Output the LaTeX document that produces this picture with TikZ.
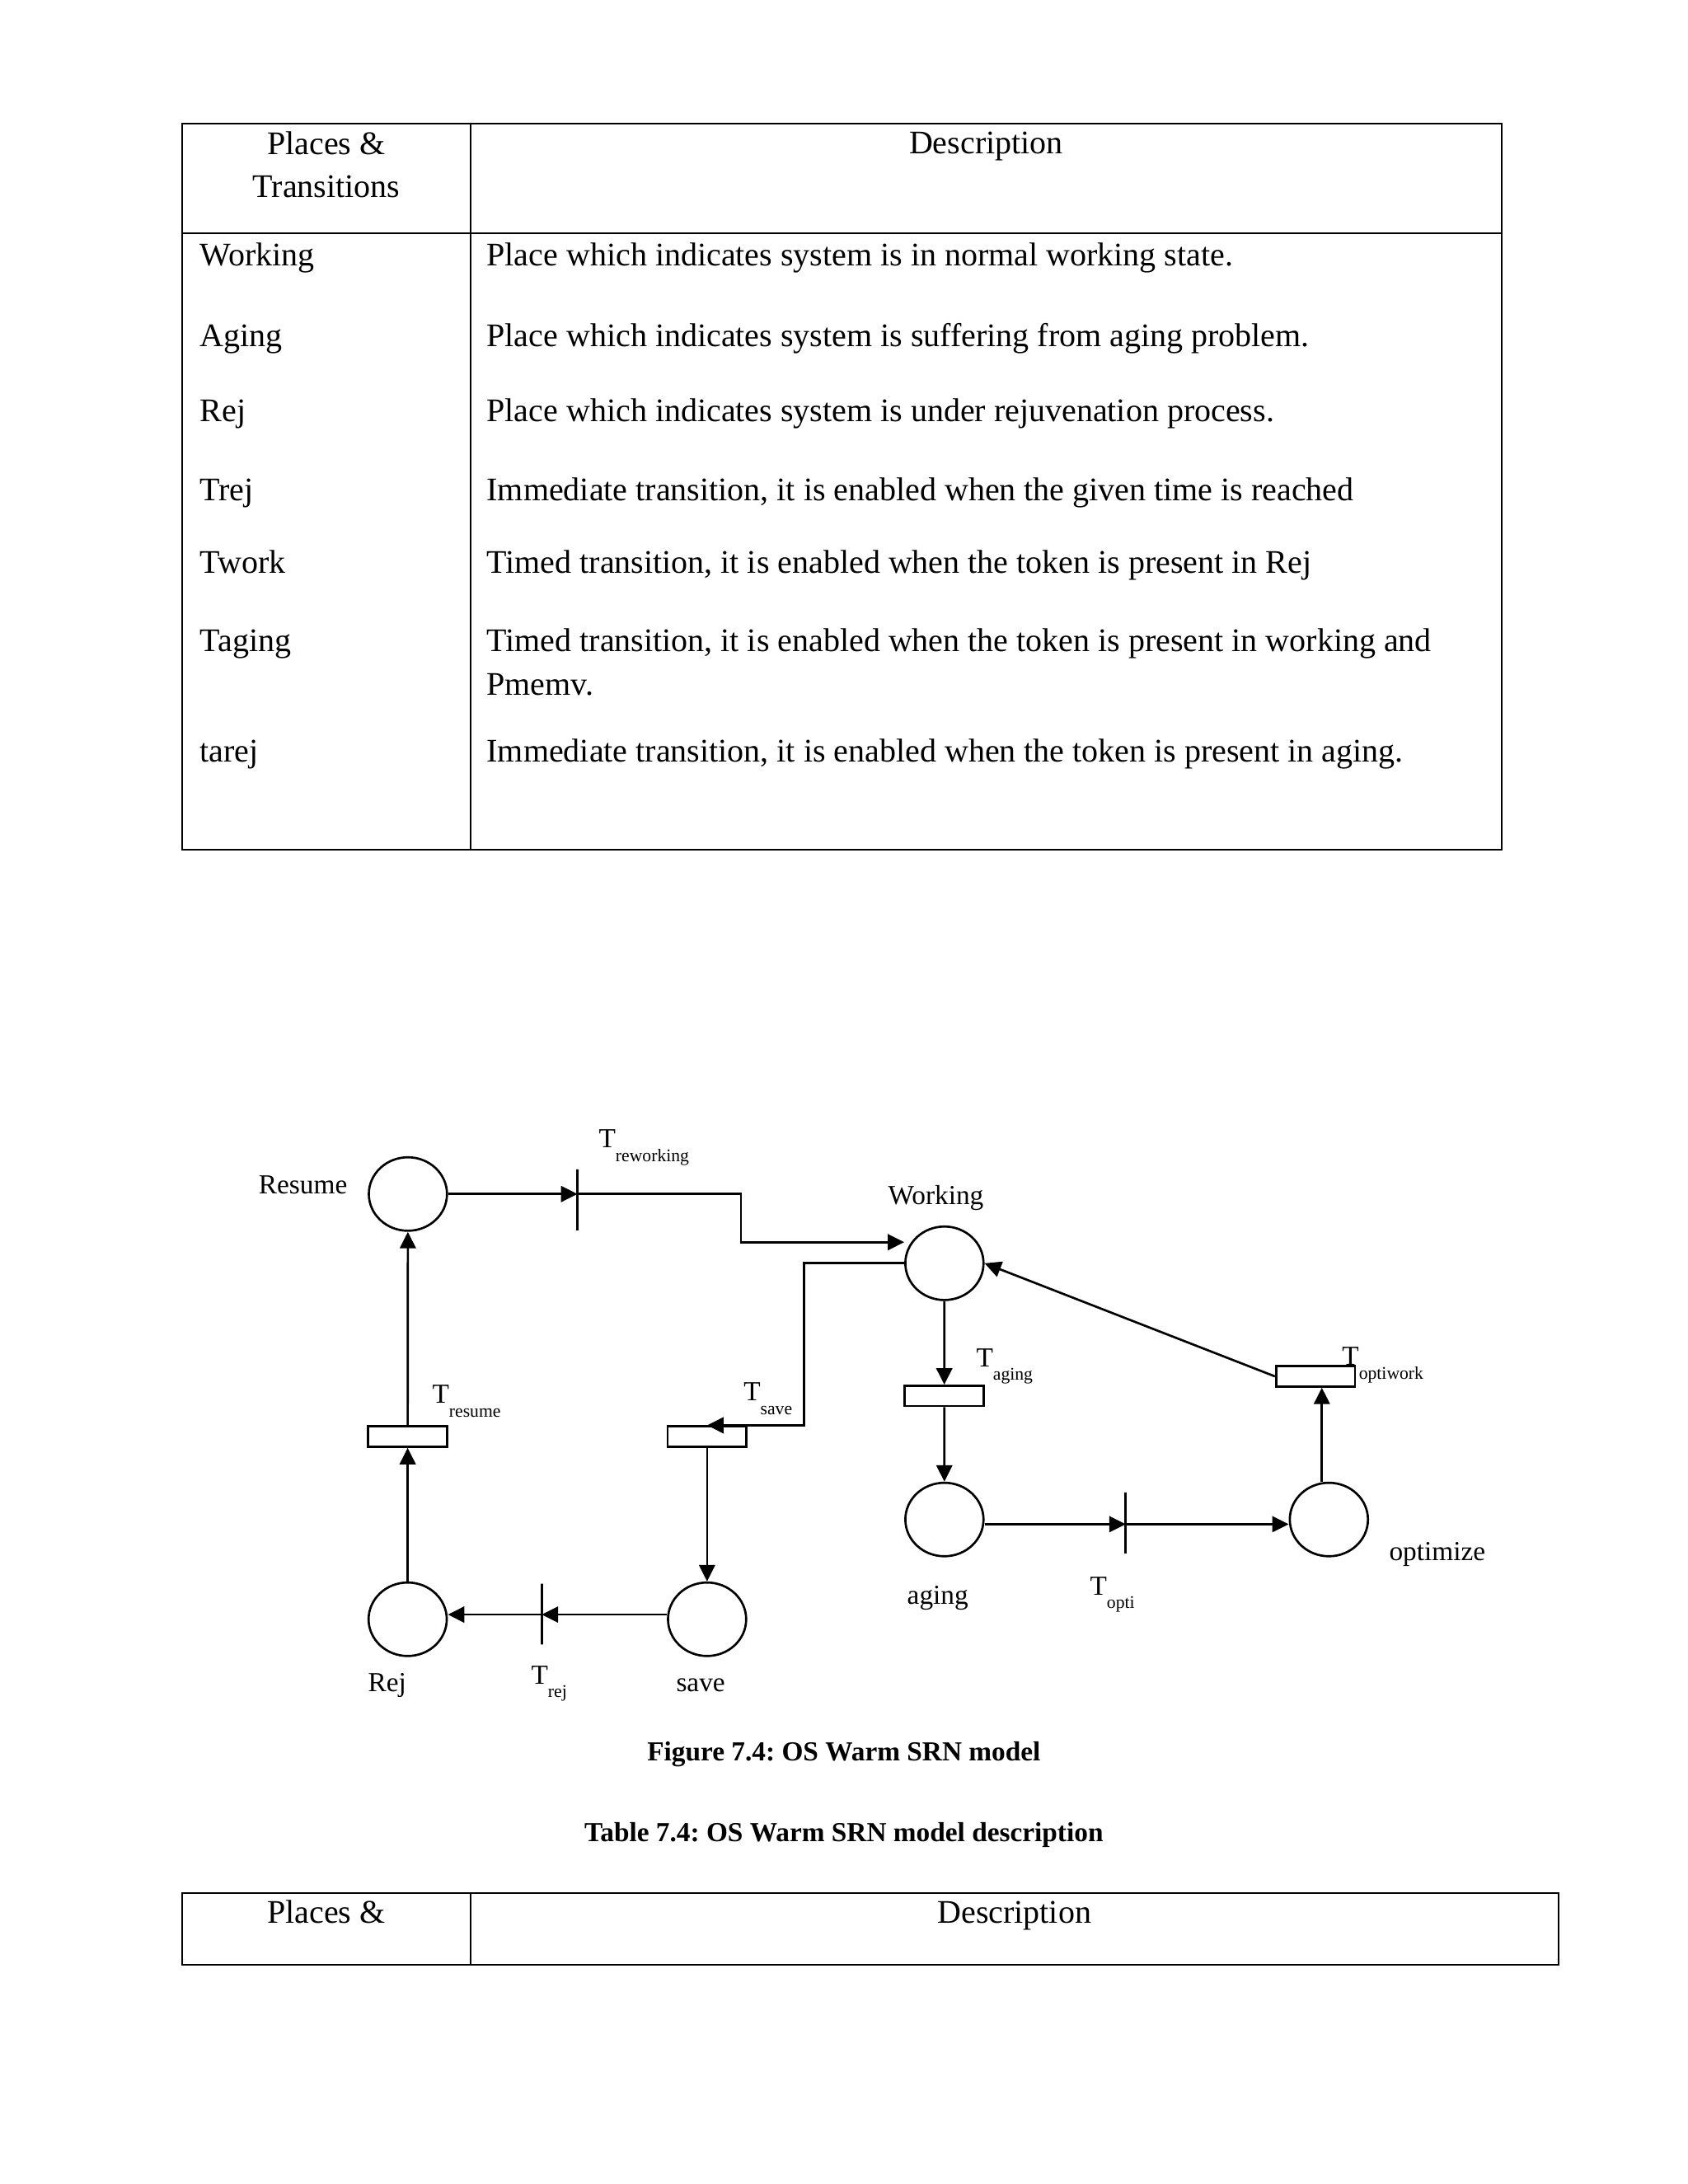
\documentclass[tikz,border=0pt]{standalone}
\usepackage{fontspec}
\setmainfont{Liberation Serif}
\usepackage{tikz}
\usetikzlibrary{arrows.meta,positioning,calc,shapes.geometric}
\newcommand{\tlab}[1]{T\raisebox{-5pt}{\fontsize{6.5}{7}\selectfont #1}}
\frenchspacing

\begin{document}
\begin{tikzpicture}[
    place/.style={ellipse, draw, line width=0.8pt, minimum width=1.0cm, minimum height=0.94cm, inner sep=0pt},
    timed/.style={rectangle, draw, line width=0.8pt, minimum width=1.01cm, minimum height=0.26cm, inner sep=0pt},
    immed/.style={rectangle, draw, line width=0.8pt, minimum width=0pt, minimum height=0.78cm, inner sep=0pt},
    lbl/.style={anchor=base west, inner sep=0pt, font=\fontsize{10}{12}\selectfont},
    cell/.style={anchor=base west, inner sep=0pt, font=\fontsize{12}{14}\selectfont},
    caption/.style={anchor=base, inner sep=0pt, font=\fontsize{10}{12}\selectfont\bfseries},
    flow/.style={line width=0.8pt, -{Triangle[length=6pt,width=5.8pt]}},
    rule/.style={line width=0.6pt}
  ]
    \useasboundingbox (0,0) rectangle (21.59,-27.94);
    % upper table
    \draw[rule] (2.33,-1.581) rectangle (19.208,-10.869);
    \draw[rule] (2.33,-2.983) -- (19.208,-2.983);
    \draw[rule] (6.02,-1.581) -- (6.02,-10.869);
    \node[cell, anchor=base] (hplace) at (4.175,-1.976) {Places \&};
    \node[cell, anchor=base] (htrans) at (4.175,-2.530) {Transitions};
    \node[cell, anchor=base] (hdesc) at (12.614,-1.971) {Description};
    \foreach \y/\nm/\desc [count=\i] in {
        -3.395/Working/{Place which indicates system is in normal working state.},
        -4.438/Aging/{Place which indicates system is suffering from aging problem.},
        -5.398/Rej/{Place which indicates system is under rejuvenation process.},
        -6.410/Trej/{Immediate transition, it is enabled when the given time is reached},
        -7.332/Twork/{Timed transition, it is enabled when the token is present in Rej},
        -8.339/Taging/{Timed transition, it is enabled when the token is present in working and},
        -9.751/tarej/{Immediate transition, it is enabled when the token is present in aging.}}
      {\node[cell] (pt\i) at (2.551,\y) {\nm}; \node[cell] (ds\i) at (6.220,\y) {\desc};}
    \node[cell] (ds6b) at (6.220,-8.893) {Pmemv.};

    % places and transitions
    \node[place] (resume) at (5.218,-15.275) {};
    \node[place] (working) at (12.081,-16.161) {};
    \node[place] (aging) at (12.081,-19.439) {};
    \node[place] (optimize) at (16.999,-19.439) {};
    \node[place] (save) at (9.045,-20.715) {};
    \node[place] (rej) at (5.215,-20.715) {};
    \node[immed] (trew) at (7.387,-15.349) {};
    \node[immed] (trej) at (6.929,-20.649) {};
    \node[immed] (topti) at (14.40,-19.482) {};
    \node[timed] (tres) at (5.215,-18.378) {};
    \node[timed] (tsave) at (9.045,-18.378) {};
    \node[timed] (tage) at (12.079,-17.858) {};
    \node[timed] (topw) at (16.828,-17.608) {};

    \node[lbl] (lresume) at (3.303,-15.277) {Resume};
    \node[lbl] (lworking) at (11.354,-15.409) {Working};
    \node[lbl] (laging) at (11.598,-20.525) {aging};
    \node[lbl] (loptimize) at (17.764,-19.959) {optimize};
    \node[lbl] (lrej) at (4.702,-21.635) {Rej};
    \node[lbl] (lsave) at (8.644,-21.635) {save};
    \node[lbl] (ltrew) at (7.654,-14.685) {\tlab{reworking}};
    \node[lbl] (ltres) at (5.524,-17.953) {\tlab{resume}};
    \node[lbl] (ltsave) at (9.506,-17.921) {\tlab{save}};
    \node[lbl] (ltage) at (12.482,-17.482) {\tlab{aging}};
    \node[lbl] (ltopw) at (17.162,-17.465) {\tlab{optiwork}};
    \node[lbl] (ltrej) at (6.789,-21.540) {\tlab{rej}};
    \node[lbl] (ltopti) at (13.937,-20.402) {\tlab{opti}};

    % arcs
    \coordinate (savein) at ($(save.west)+(0,0.06)$);
    \coordinate (agingout) at ($(aging.east)+(0,-0.06)$);
    \coordinate (optiup) at ($(optimize.north)+(-0.09,0)$);
    \draw[flow] (resume.east) -- (resume.east -| trew);
    \draw[flow] (resume.east -| trew) -- ++(2.09,0) |- ($(working.west)+(0,0.27)$);
    \draw[flow] (working.west) -- ++(-1.28,0) |- (tsave.north);
    \draw[flow] (savein) -- (savein -| trej);
    \draw[flow] (savein -| trej) -- (savein -| rej.east);
    \draw[flow] (agingout) -- (agingout -| topti);
    \draw[flow] (agingout -| topti) -- (agingout -| optimize.west);
    \draw[flow] (optiup) -- (optiup |- topw.south);
    \foreach \a/\b in {rej/tres,tres/resume,working/tage,tage/aging,tsave/save} {\draw[flow] (\a) -- (\b);}
    \draw[flow] (topw.west) -- (working.east);

    % captions and lower table
    \node[caption] (figcap) at (10.795,-22.53) {Figure 7.4: OS Warm SRN model};
    \node[caption] (tabcap) at (10.795,-23.56) {Table 7.4: OS Warm SRN model description};
    \draw[rule] (2.33,-24.215) rectangle (19.935,-25.13);
    \draw[rule] (6.02,-24.215) -- (6.02,-25.13);
    \node[cell, anchor=base] (hplace2) at (4.175,-24.605) {Places \&};
    \node[cell, anchor=base] (hdesc2) at (12.976,-24.605) {Description};
  \end{tikzpicture}
\end{document}
